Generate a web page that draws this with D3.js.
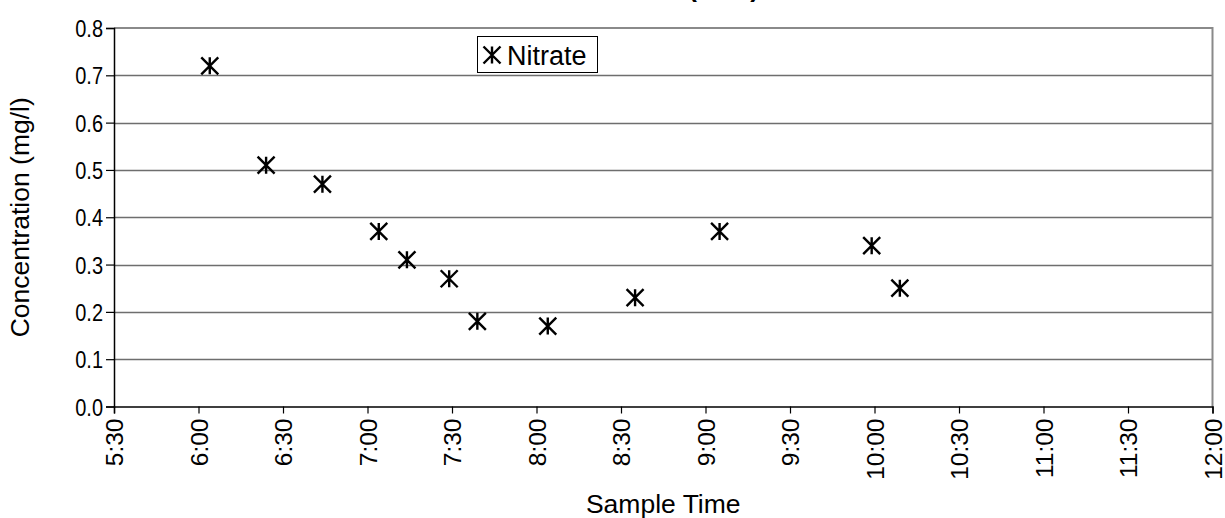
<!DOCTYPE html>
<html>
<head>
<meta charset="utf-8">
<script src="https://cdn.jsdelivr.net/npm/d3@7"></script>
<style>
  html, body { margin: 0; padding: 0; background: #fff; }
  svg { display: block; font-family: "Liberation Sans", Arial, sans-serif; }
</style>
</head>
<body>
<svg id="chart" width="1225" height="518"></svg>
<script>
// ---- data ----
const sampleTimes = ["6:04","6:24","6:44","7:04","7:14","7:29","7:39","8:04","8:35","9:05","9:59","10:09"];
const nitrate = [0.72, 0.51, 0.47, 0.37, 0.31, 0.27, 0.18, 0.17, 0.23, 0.37, 0.34, 0.25];
const xTickLabels = ["5:30","6:00","6:30","7:00","7:30","8:00","8:30","9:00","9:30","10:00","10:30","11:00","11:30","12:00"];
const yTickValues = [0, 0.1, 0.2, 0.3, 0.4, 0.5, 0.6, 0.7, 0.8];
const seriesName = "Nitrate";
const chartTitle = "Nitrate Concentration (NO3)";
const xTitle = "Sample Time";
const yTitle = "Concentration (mg/l)";

const toMin = s => { const [h, m] = s.split(":").map(Number); return h * 60 + m; };
const FONT = "Liberation Sans, Arial, sans-serif";

const svg = d3.select("#chart");
const L = 114, R = 1212.5, T = 28, B = 406.5;

const x = d3.scaleLinear().domain([toMin("5:30"), toMin("12:00")]).range([L, R]);
const y = d3.scaleLinear().domain([0, 0.8]).range([B, T]);

// gridlines
svg.append("g").selectAll("line").data(yTickValues.filter(v => v > 0 && v < 0.8)).join("line")
  .attr("x1", L).attr("x2", R)
  .attr("y1", d => Math.round(y(d)) + 0.5).attr("y2", d => Math.round(y(d)) + 0.5)
  .attr("stroke", "#6e6e6e").attr("stroke-width", 1.3);

// plot border (top/right gray)
svg.append("path")
  .attr("d", `M${L},${T}H${R}V${B}`)
  .attr("fill", "none").attr("stroke", "#8a8a8a").attr("stroke-width", 2);

// y axis
const yAxis = d3.axisLeft(y).tickValues(yTickValues).tickFormat(d3.format(".1f")).tickSizeOuter(0).tickSize(8);
const gy = svg.append("g").attr("transform", `translate(${L},0)`).call(yAxis);
gy.attr("font-size", null).attr("font-family", null);
gy.select(".domain").attr("stroke", "#000").attr("stroke-width", 1.5);
gy.selectAll(".tick line").attr("stroke", "#000").attr("stroke-width", 1.2);
gy.selectAll(".tick text").style("font-size", "20px").attr("fill", "#000")
  .style("font-family", FONT).attr("x", -11).attr("dy", "0.36em")
  .attr("transform", "scale(1,1.2)");

// x axis
const xAxis = d3.axisBottom(x).tickValues(xTickLabels.map(toMin))
  .tickFormat((d, i) => xTickLabels[i]).tickSizeOuter(0).tickSize(7);
const gx = svg.append("g").attr("transform", `translate(0,${B})`).call(xAxis);
gx.attr("font-size", null).attr("font-family", null);
gx.select(".domain").attr("stroke", "#000").attr("stroke-width", 1.5);
gx.selectAll(".tick line").attr("stroke", "#000").attr("stroke-width", 1.2);
gx.selectAll(".tick text")
  .style("font-size", "24.5px").attr("fill", "#000")
  .style("font-family", FONT)
  .attr("text-anchor", "end")
  .attr("transform", "rotate(-90)")
  .attr("x", -12).attr("y", 0).attr("dy", "0.35em");

// markers (asterisk)
const s = 8.5;
const star = `M0,${-s}V${s}M${-s},${-s}L${s},${s}M${-s},${s}L${s},${-s}`;
svg.append("g").selectAll("path").data(nitrate).join("path")
  .attr("transform", (d, i) => `translate(${x(toMin(sampleTimes[i]))},${y(d)})`)
  .attr("d", star).attr("fill", "none").attr("stroke", "#000").attr("stroke-width", 2.4);

// axis titles
svg.append("text").attr("x", (L + R) / 2).attr("y", 513).attr("text-anchor", "middle")
  .style("font-size", "26.5px").style("font-family", FONT).text(xTitle);
svg.append("text").attr("transform", `translate(29,${(T + B) / 2}) rotate(-90)`)
  .attr("text-anchor", "middle").style("font-size", "26.5px").style("font-family", FONT).text(yTitle);

// chart title (mostly cut off at top)
svg.append("text").attr("x", 759).attr("y", -2.8).attr("text-anchor", "end")
  .style("font-size", "26px").style("font-family", FONT).attr("font-weight", "bold").text(chartTitle);

// legend
const lg = svg.append("g").attr("transform", "translate(477,36)");
lg.append("rect").attr("x", 0.5).attr("y", 0.5).attr("width", 120).attr("height", 36)
  .attr("fill", "#fff").attr("stroke", "#000").attr("stroke-width", 1);
lg.append("path").attr("transform", "translate(15,19)").attr("d", star)
  .attr("fill", "none").attr("stroke", "#000").attr("stroke-width", 2.4);
lg.append("text").attr("x", 30).attr("y", 28.5).style("font-size", "27px").style("font-family", FONT).text(seriesName);
</script>
</body>
</html>
